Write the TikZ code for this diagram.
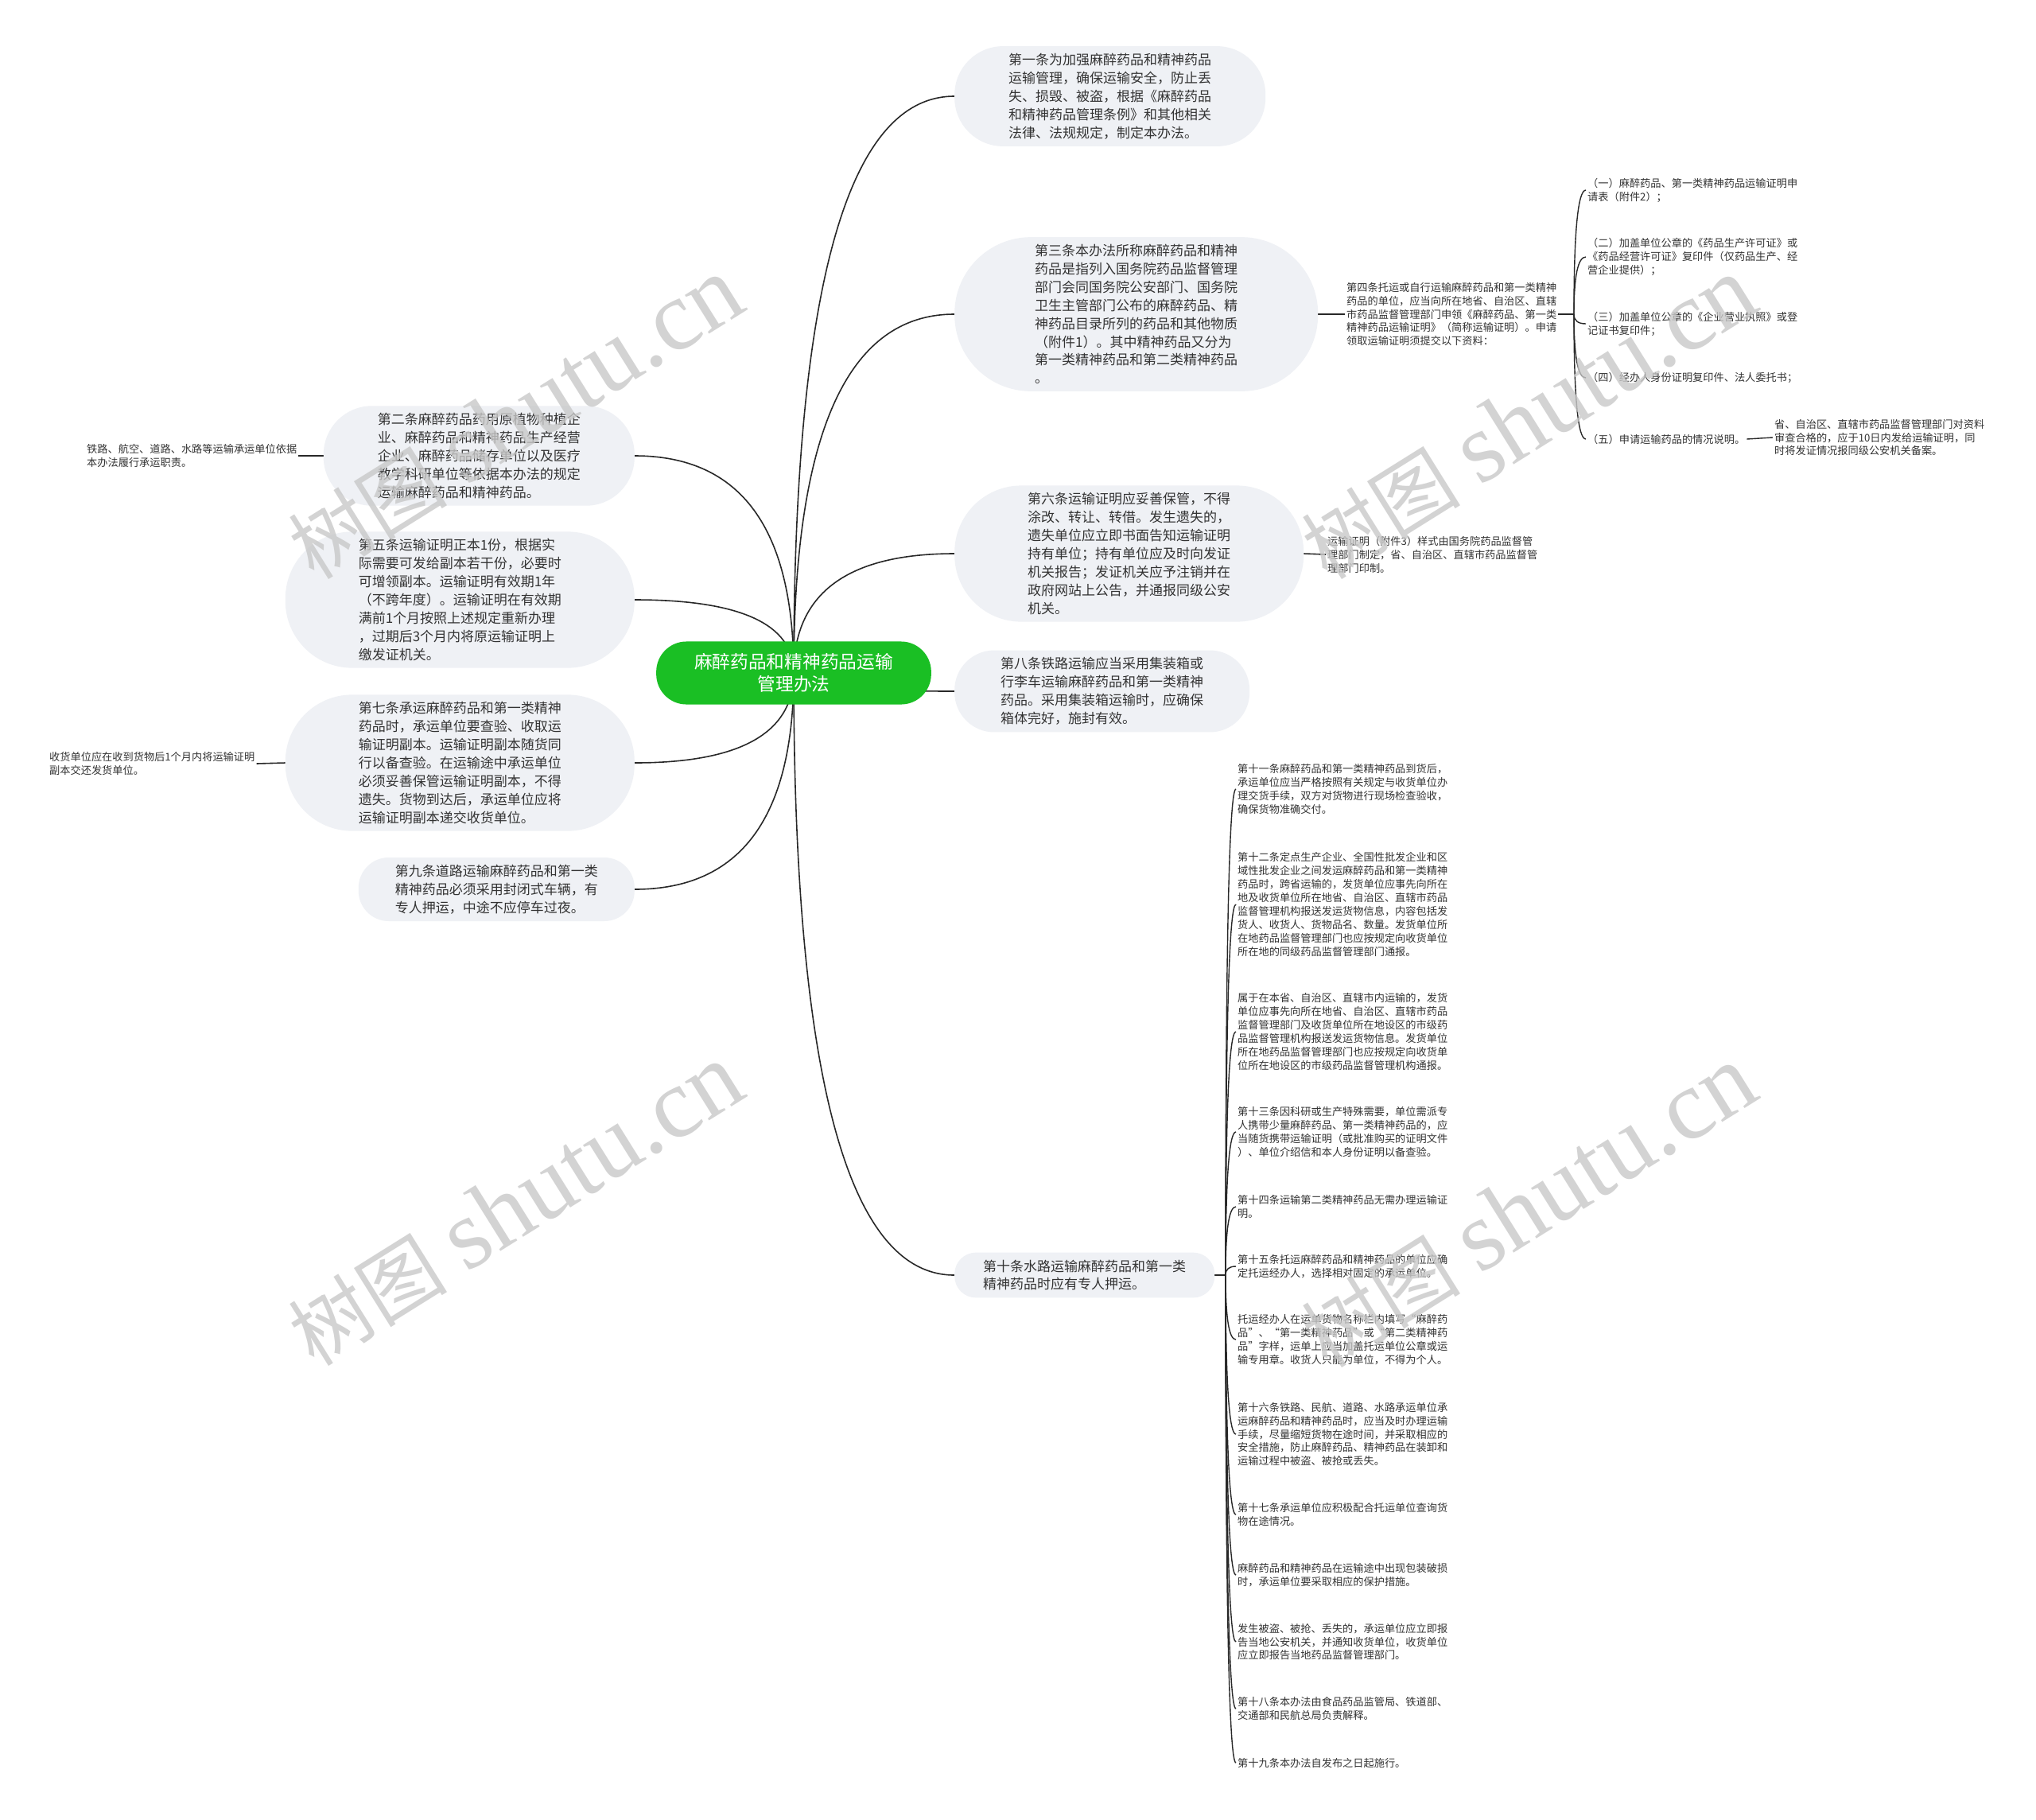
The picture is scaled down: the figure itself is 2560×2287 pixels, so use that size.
\documentclass[tikz,border=0pt]{standalone}
\usepackage{fontspec}
\newfontfamily\cjk{Noto Sans CJK SC}
\newfontfamily\wmserif{Liberation Serif}
\usetikzlibrary{calc}
\definecolor{rootgreen}{RGB}{26,191,36}
\definecolor{bubblefill}{RGB}{239,241,245}
\definecolor{textc}{RGB}{51,51,51}
\definecolor{linec}{RGB}{40,40,40}
\definecolor{wmc}{RGB}{200,200,200}
\pgfdeclarelayer{bg}
\pgfsetlayers{bg,main}
\newcommand\mmlink[3][link]{\draw[#1] (#2) .. controls ($(#2)!0.6667!(#2|-#3)$) and ($(#3)!0.6667!(#2|-#3)$) .. (#3);}
\tikzset{
  bubble/.style={rectangle, fill=bubblefill, draw=none, align=left, text=textc,
    font=\cjk\fontsize{17}{22.9}\selectfont, inner ysep=9pt},
  bubtwo/.style={bubble, rounded corners=27pt, inner xsep=36pt},
  bubthree/.style={bubble, rounded corners=38pt, inner xsep=46pt},
  bubfour/.style={bubble, rounded corners=50pt, inner xsep=58pt},
  bubfive/.style={bubble, rounded corners=61pt, inner xsep=68pt},
  bubseven/.style={bubble, rounded corners=84pt, inner xsep=92pt},
  bubeight/.style={bubble, rounded corners=96pt, inner xsep=101pt},
  leaf/.style={align=left, text=textc, font=\cjk\fontsize{13.2}{16.9}\selectfont, inner sep=2pt},
  rootnode/.style={rectangle, rounded corners=38pt, fill=rootgreen, text=white, align=center,
    font=\cjk\fontsize{22.7}{28}\selectfont, inner xsep=48pt, inner ysep=15pt},
  link/.style={draw=linec, line width=1.6pt},
  leafl/.style={draw=linec, line width=1.4pt},
  wm/.style={text=wmc, opacity=0.8, inner sep=0pt, rotate=32, font=\cjk\fontsize{100}{100}\selectfont},
}
\newcommand\wmtext{树图\hspace{25pt}{\wmserif\fontsize{125}{125}\selectfont shutu.cn}}
\begin{document}
\begin{tikzpicture}[x=1pt,y=-1pt]
\useasboundingbox (0,0) rectangle (2560,2287);
\begin{pgfonlayer}{bg}
\fill[white] (0,0) rectangle (2560,2287);
\end{pgfonlayer}

% root
\node[rootnode] (root) at (998,846) {麻醉药品和精神药品运输\\管理办法};

% right main branches
\node[bubfive, anchor=west] (a1) at (1200,121) {第一条为加强麻醉药品和精神药品\\运输管理，确保运输安全，防止丢\\失、损毁、被盗，根据《麻醉药品\\和精神药品管理条例》和其他相关\\法律、法规规定，制定本办法。};
\node[bubeight, anchor=west] (a3) at (1200,395) {第三条本办法所称麻醉药品和精神\\药品是指列入国务院药品监督管理\\部门会同国务院公安部门、国务院\\卫生主管部门公布的麻醉药品、精\\神药品目录所列的药品和其他物质\\（附件1）。其中精神药品又分为\\第一类精神药品和第二类精神药品\\。};
\node[bubseven, anchor=west] (a6) at (1200,696) {第六条运输证明应妥善保管，不得\\涂改、转让、转借。发生遗失的，\\遗失单位应立即书面告知运输证明\\持有单位；持有单位应及时向发证\\机关报告；发证机关应予注销并在\\政府网站上公告，并通报同级公安\\机关。};
\node[bubfour, anchor=west] (a8) at (1200,869) {第八条铁路运输应当采用集装箱或\\行李车运输麻醉药品和第一类精神\\药品。采用集装箱运输时，应确保\\箱体完好，施封有效。};
\node[bubtwo, anchor=west] (a10) at (1200,1603) {第十条水路运输麻醉药品和第一类\\精神药品时应有专人押运。};

% left main branches
\node[bubfive, anchor=east] (a2) at (798,573) {第二条麻醉药品药用原植物种植企\\业、麻醉药品和精神药品生产经营\\企业、麻醉药品储存单位以及医疗\\教学科研单位等依据本办法的规定\\运输麻醉药品和精神药品。};
\node[bubseven, anchor=east] (a5) at (798,754) {第五条运输证明正本1份，根据实\\际需要可发给副本若干份，必要时\\可增领副本。运输证明有效期1年\\（不跨年度）。运输证明在有效期\\满前1个月按照上述规定重新办理\\，过期后3个月内将原运输证明上\\缴发证机关。};
\node[bubseven, anchor=east] (a7) at (798,959) {第七条承运麻醉药品和第一类精神\\药品时，承运单位要查验、收取运\\输证明副本。运输证明副本随货同\\行以备查验。在运输途中承运单位\\必须妥善保管运输证明副本，不得\\遗失。货物到达后，承运单位应将\\运输证明副本递交收货单位。};
\node[bubthree, anchor=east] (a9) at (798,1118) {第九条道路运输麻醉药品和第一类\\精神药品必须采用封闭式车辆，有\\专人押运，中途不应停车过夜。};

% left leaves
\node[leaf, anchor=west] (a2a) at (107,573) {铁路、航空、道路、水路等运输承运单位依据\\本办法履行承运职责。};
\node[leaf, anchor=west] (a7a) at (60,960) {收货单位应在收到货物后1个月内将运输证明\\副本交还发货单位。};

% 第四条 cluster
\node[leaf, anchor=west] (a4) at (1691,395) {第四条托运或自行运输麻醉药品和第一类精神\\药品的单位，应当向所在地省、自治区、直辖\\市药品监督管理部门申领《麻醉药品、第一类\\精神药品运输证明》（简称运输证明）。申请\\领取运输证明须提交以下资料：};
\coordinate (b4) at (1979,395);
\node[leaf, anchor=west] (c1) at (1994,239) {（一）麻醉药品、第一类精神药品运输证明申\\请表（附件2）；};
\node[leaf, anchor=west] (c2) at (1994,323) {（二）加盖单位公章的《药品生产许可证》或\\《药品经营许可证》复印件（仅药品生产、经\\营企业提供）；};
\node[leaf, anchor=west] (c3) at (1994,407) {（三）加盖单位公章的《企业营业执照》或登\\记证书复印件；};
\node[leaf, anchor=west] (c4) at (1994,475) {（四）经办人身份证明复印件、法人委托书；};
\node[leaf, anchor=west] (c5) at (1994,552) {（五）申请运输药品的情况说明。};
\node[leaf, anchor=west] (c5a) at (2229,550) {省、自治区、直辖市药品监督管理部门对资料\\审查合格的，应于10日内发给运输证明，同\\时将发证情况报同级公安机关备案。};

% 第六条 leaf
\node[leaf, anchor=west] (a6a) at (1667,697) {运输证明（附件3）样式由国务院药品监督管\\理部门制定，省、自治区、直辖市药品监督管\\理部门印制。};

% 第十条 cluster
\coordinate (b10) at (1541,1603);
\node[leaf, anchor=west] (d1) at (1554,992) {第十一条麻醉药品和第一类精神药品到货后，\\承运单位应当严格按照有关规定与收货单位办\\理交货手续，双方对货物进行现场检查验收，\\确保货物准确交付。};
\node[leaf, anchor=west] (d2) at (1554,1137) {第十二条定点生产企业、全国性批发企业和区\\域性批发企业之间发运麻醉药品和第一类精神\\药品时，跨省运输的，发货单位应事先向所在\\地及收货单位所在地省、自治区、直辖市药品\\监督管理机构报送发运货物信息，内容包括发\\货人、收货人、货物品名、数量。发货单位所\\在地药品监督管理部门也应按规定向收货单位\\所在地的同级药品监督管理部门通报。};
\node[leaf, anchor=west] (d3) at (1554,1297) {属于在本省、自治区、直辖市内运输的，发货\\单位应事先向所在地省、自治区、直辖市药品\\监督管理部门及收货单位所在地设区的市级药\\品监督管理机构报送发运货物信息。发货单位\\所在地药品监督管理部门也应按规定向收货单\\位所在地设区的市级药品监督管理机构通报。};
\node[leaf, anchor=west] (d4) at (1554,1423) {第十三条因科研或生产特殊需要，单位需派专\\人携带少量麻醉药品、第一类精神药品的，应\\当随货携带运输证明（或批准购买的证明文件\\）、单位介绍信和本人身份证明以备查验。};
\node[leaf, anchor=west] (d5) at (1554,1517) {第十四条运输第二类精神药品无需办理运输证\\明。};
\node[leaf, anchor=west] (d6) at (1554,1592) {第十五条托运麻醉药品和精神药品的单位应确\\定托运经办人，选择相对固定的承运单位。};
\node[leaf, anchor=west] (d7) at (1554,1684) {托运经办人在运单货物名称栏内填写“麻醉药\\品”、“第一类精神药品”或“第二类精神药\\品”字样，运单上应当加盖托运单位公章或运\\输专用章。收货人只能为单位，不得为个人。};
\node[leaf, anchor=west] (d8) at (1554,1803) {第十六条铁路、民航、道路、水路承运单位承\\运麻醉药品和精神药品时，应当及时办理运输\\手续，尽量缩短货物在途时间，并采取相应的\\安全措施，防止麻醉药品、精神药品在装卸和\\运输过程中被盗、被抢或丢失。};
\node[leaf, anchor=west] (d9) at (1554,1904) {第十七条承运单位应积极配合托运单位查询货\\物在途情况。};
\node[leaf, anchor=west] (d10) at (1554,1980) {麻醉药品和精神药品在运输途中出现包装破损\\时，承运单位要采取相应的保护措施。};
\node[leaf, anchor=west] (d11) at (1554,2064) {发生被盗、被抢、丢失的，承运单位应立即报\\告当地公安机关，并通知收货单位，收货单位\\应立即报告当地药品监督管理部门。};
\node[leaf, anchor=west] (d12) at (1554,2148) {第十八条本办法由食品药品监管局、铁道部、\\交通部和民航总局负责解释。};
\node[leaf, anchor=west] (d13) at (1554,2216) {第十九条本办法自发布之日起施行。};

% connectors
\begin{pgfonlayer}{bg}
\mmlink{root.center}{a1.west}
\mmlink{root.center}{a3.west}
\mmlink{root.center}{a6.west}
\mmlink{root.center}{a8.west}
\mmlink{root.center}{a10.west}
\mmlink{root.center}{a2.east}
\mmlink{root.center}{a5.east}
\mmlink{root.center}{a7.east}
\mmlink{root.center}{a9.east}
\draw[link] (a2.west) -- (a2a.east);
\draw[link] (a7.west) -- (a7a.east);
\draw[link] (a3.east) -- (a4.west);
\draw[leafl] (a4.east) -- (b4);
\mmlink[leafl]{b4}{c1.west}
\mmlink[leafl]{b4}{c2.west}
\mmlink[leafl]{b4}{c3.west}
\mmlink[leafl]{b4}{c4.west}
\mmlink[leafl]{b4}{c5.west}
\draw[leafl] (c5.east) -- (c5a.west);
\draw[link] (a6.east) -- (a6a.west);
\draw[link] (a10.east) -- (b10);
\mmlink[leafl]{b10}{d1.west}
\mmlink[leafl]{b10}{d2.west}
\mmlink[leafl]{b10}{d3.west}
\mmlink[leafl]{b10}{d4.west}
\mmlink[leafl]{b10}{d5.west}
\mmlink[leafl]{b10}{d6.west}
\mmlink[leafl]{b10}{d7.west}
\mmlink[leafl]{b10}{d8.west}
\mmlink[leafl]{b10}{d9.west}
\mmlink[leafl]{b10}{d10.west}
\mmlink[leafl]{b10}{d11.west}
\mmlink[leafl]{b10}{d12.west}
\mmlink[leafl]{b10}{d13.west}
\end{pgfonlayer}

% watermarks
\node[wm] (w1) at (648,526) {\wmtext};
\node[wm] (w2) at (1922,526) {\wmtext};
\node[wm] (w3) at (648,1515) {\wmtext};
\node[wm] (w4) at (1922,1517) {\wmtext};
\end{tikzpicture}
\end{document}
